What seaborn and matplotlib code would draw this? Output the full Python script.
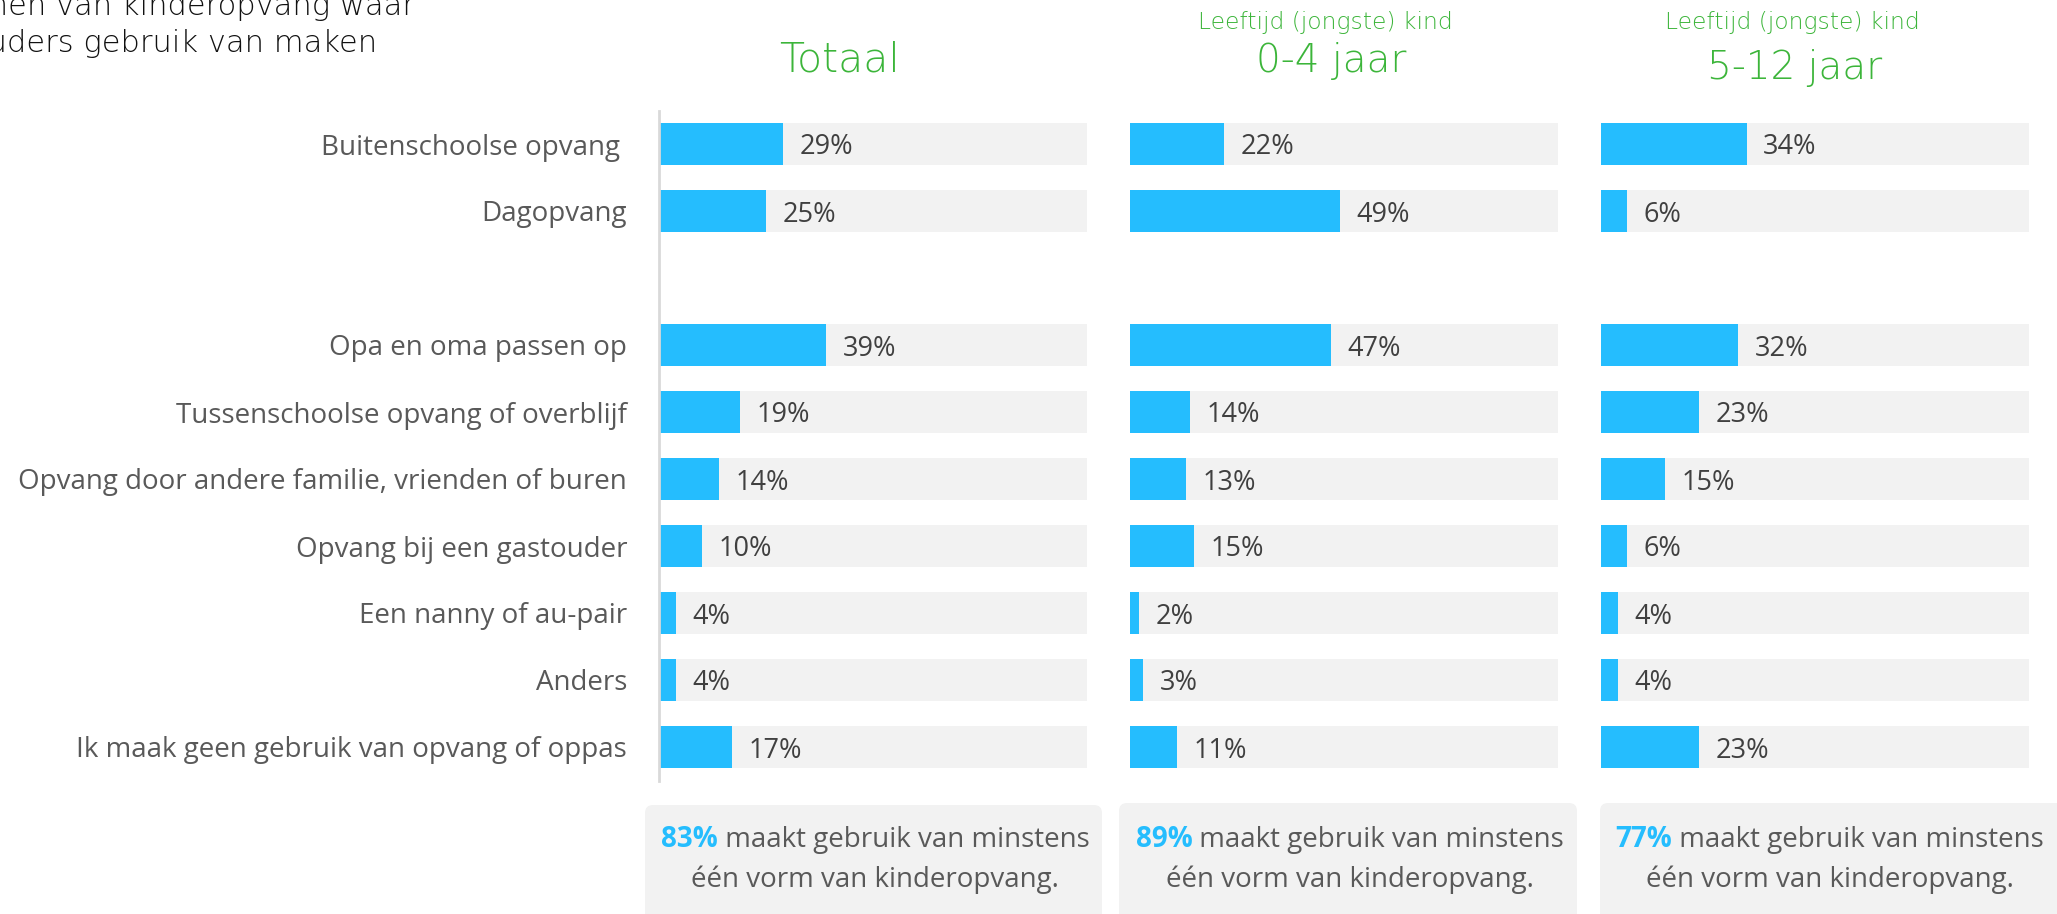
import matplotlib
matplotlib.use("Agg")
import matplotlib.pyplot as plt
import seaborn as sns
import pandas as pd
from matplotlib.patches import FancyBboxPatch

# ---------------- data ----------------
categories = [
    "Buitenschoolse opvang ",
    "Dagopvang",
    "Opa en oma passen op",
    "Tussenschoolse opvang of overblijf",
    "Opvang door andere familie, vrienden of buren",
    "Opvang bij een gastouder",
    "Een nanny of au-pair",
    "Anders",
    "Ik maak geen gebruik van opvang of oppas",
]
totaal = [29, 25, 39, 19, 14, 10, 4, 4, 17]
kind_0_4 = [22, 49, 47, 14, 13, 15, 2, 3, 11]
kind_5_12 = [34, 6, 32, 23, 15, 6, 4, 4, 23]
panel_titles = ["Totaal", "0-4 jaar", "5-12 jaar"]
panel_subtitles = ["", "Leeftijd (jongste) kind", "Leeftijd (jongste) kind"]
summary_pct = [83, 89, 77]
summary_line1 = " maakt gebruik van minstens"
summary_line2 = "één vorm van kinderopvang."
title_lines = ["Vormen van kinderopvang waar", "ouders gebruik van maken"]

GAP = " "
order = categories[:2] + [GAP] + categories[2:]

# ---------------- style ----------------
BLUE = "#25BDFE"
BG = "#F2F2F2"
GREEN = "#3CB53A"
LABEL = "#595959"
PCT = "#404040"
HEAD_FONT = ["DejaVu Sans"]
HEAD_WEIGHT = "light"

sns.set_theme(style="white")
plt.rcParams["font.family"] = ["Open Sans", "DejaVu Sans"]

W, H = 2057, 914
fig = plt.figure(figsize=(W / 100, H / 100), dpi=100)

# overlay axes in pixel coordinates (for boxes and free text)
ov = fig.add_axes([0, 0, 1, 1], zorder=0)
ov.set_xlim(0, W)
ov.set_ylim(H, 0)
ov.axis("off")
ov.patch.set_alpha(0)

panel_left = [659, 1130, 1601]
panel_w = 428
top, bottom = 110.5, 780.5

series = [totaal, kind_0_4, kind_5_12]
for i, vals in enumerate(series):
    ax = fig.add_axes([panel_left[i] / W, (H - bottom) / H, panel_w / W, (bottom - top) / H], zorder=1)
    ax.patch.set_alpha(0)
    df = pd.DataFrame({"cat": categories, "val": vals, "full": [100] * len(vals)})
    sns.barplot(data=df, x="full", y="cat", order=order, orient="h", color=BG,
                saturation=1, width=0.64, linewidth=0, ax=ax)
    sns.barplot(data=df, x="val", y="cat", order=order, orient="h", color=BLUE,
                saturation=1, width=0.64, linewidth=0, ax=ax)
    for c, v in zip(categories, vals):
        ax.annotate(f"{v}%", xy=(v, order.index(c)), xytext=(12, 0),
                    textcoords="offset points", ha="left", va="center_baseline",
                    fontsize=19.5, color=PCT)
    ax.set_xlim(0, 100)
    ax.set_ylim(len(order) - 0.5, -0.5)
    ax.set_xlabel("")
    ax.set_ylabel("")
    ax.set_xticks([])
    for s in ["top", "right", "bottom", "left"]:
        ax.spines[s].set_visible(False)
    if i == 0:
        ax.spines["left"].set_visible(True)
        ax.spines["left"].set_color("#D9D9D9")
        ax.spines["left"].set_linewidth(2)
        ax.tick_params(axis="y", length=0, pad=23, labelsize=20, labelcolor=LABEL)
    else:
        ax.set_yticks([])

# headers
header_x = [840, 1331, 1795]
header_base = [71, 72, 79]
header_size = [29.5, 28, 28]
sub_x = [0, 1325, 1792]
for i in range(3):
    ov.text(header_x[i], header_base[i], panel_titles[i], ha="center", va="baseline",
            fontsize=header_size[i], color=GREEN, family=HEAD_FONT, fontweight=HEAD_WEIGHT)
    if panel_subtitles[i]:
        ov.text(sub_x[i], 29, panel_subtitles[i], ha="center", va="baseline",
                fontsize=16.8, color=GREEN, family=HEAD_FONT, fontweight=HEAD_WEIGHT)

# title (partly outside the left edge, as in the source)
ov.text(415, 15, title_lines[0], ha="right", va="baseline", fontsize=22,
        color="#111111", family=HEAD_FONT, fontweight=HEAD_WEIGHT)
ov.text(377, 52, title_lines[1], ha="right", va="baseline", fontsize=22,
        color="#111111", family=HEAD_FONT, fontweight=HEAD_WEIGHT)

# summary boxes
box_x = [(645, 1102), (1119, 1577), (1600, 2120)]
box_top = [805, 803, 803]
text_cx = [875, 1350, 1830]
for i in range(3):
    x0, x1 = box_x[i]
    ov.add_patch(FancyBboxPatch((x0, box_top[i]), x1 - x0, 200,
                                boxstyle="round,pad=0,rounding_size=8",
                                facecolor=BG, edgecolor="none", zorder=0))

fig.canvas.draw()
r = fig.canvas.get_renderer()
for i in range(3):
    t1 = ov.text(0, 847, f"{summary_pct[i]}%", ha="left", va="baseline", fontsize=20,
                 color=BLUE, fontweight="bold")
    t2 = ov.text(0, 847, summary_line1, ha="left", va="baseline", fontsize=20, color=LABEL)
    w1 = t1.get_window_extent(r).width
    w2 = t2.get_window_extent(r).width
    xs = text_cx[i] - (w1 + w2) / 2
    t1.set_x(xs)
    t2.set_x(xs + w1)
    ov.text(text_cx[i], 887, summary_line2, ha="center", va="baseline", fontsize=20, color=LABEL)

fig.savefig("out.png", dpi=100)
